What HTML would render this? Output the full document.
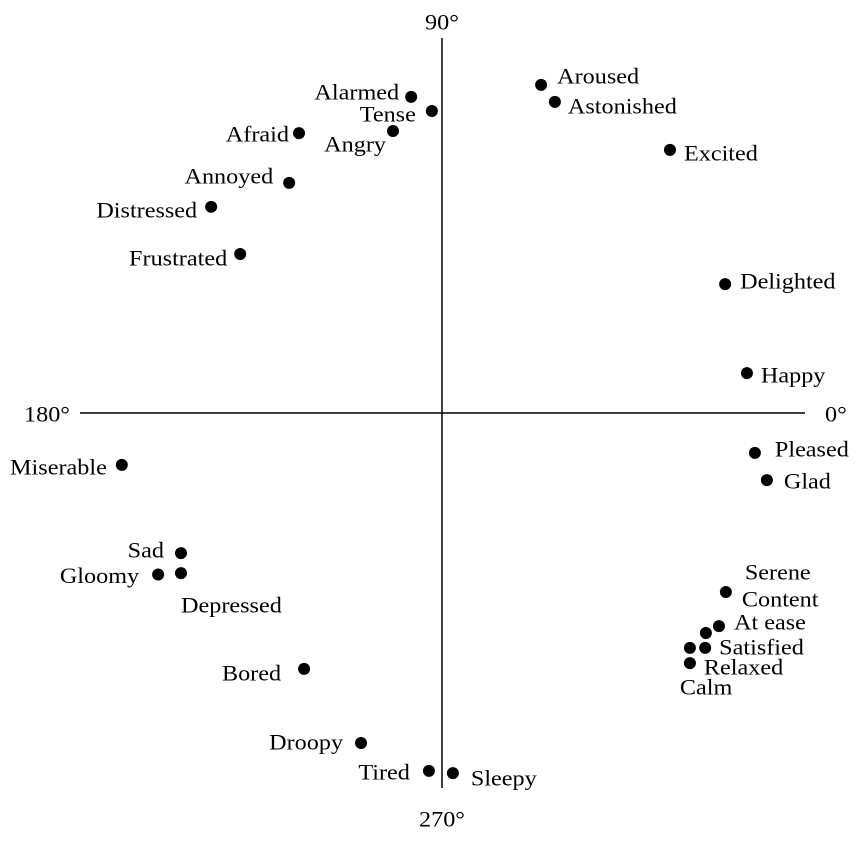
<!DOCTYPE html>
<html><head><meta charset="utf-8"><style>
html,body{margin:0;padding:0;background:#fff}
svg text{font-family:"Liberation Serif",serif;font-size:22px;fill:#000}
</style></head><body>
<svg id="chart" width="862" height="838" xmlns="http://www.w3.org/2000/svg"></svg>
<script>
const emotions=["Alarmed","Tense","Angry","Afraid","Annoyed","Distressed","Frustrated","Aroused","Astonished","Excited","Delighted","Happy","Pleased","Glad","Serene","Content","At ease","Satisfied","Calm","Relaxed","Miserable","Sad","Gloomy","Depressed","Bored","Droopy","Tired","Sleepy"];
const valence=[-0.085,-0.028,-0.135,-0.394,-0.421,-0.636,-0.556,0.273,0.311,0.628,0.780,0.840,0.862,0.895,0.782,0.727,0.763,0.725,0.683,0.683,-0.882,-0.719,-0.782,-0.719,-0.380,-0.223,-0.036,0.030];
const arousal=[0.871,0.832,0.777,0.771,0.634,0.568,0.438,0.904,0.857,0.725,0.355,0.110,-0.110,-0.185,-0.493,-0.606,-0.587,-0.647,-0.647,-0.689,-0.143,-0.386,-0.445,-0.441,-0.705,-0.909,-0.986,-0.992];
const axisLabels=["0°","90°","180°","270°"];
// label placement (styling)
const lab=[[-12,-6,"end"],[-16,2,"end"],[-7,12,"end"],[-10,0,"end"],[-16,-8,"end"],[-14,2,"end"],[-13,3,"end"],[16,-10,"start"],[13,3,"start"],[14,2,"start"],[15,-4,"start"],[14,1,"start"],[20,-5,"start"],[17,0,"start"],[19,-21,"start"],[36,-35,"start"],[15,-5,"start"],[14,-2,"start"],[-10,38,"start"],[14,3,"start"],[-15,1,"end"],[-17,-4,"end"],[-19,0,"end"],[0,31,"start"],[-23,3,"end"],[-18,-2,"end"],[-19,0,"end"],[18,4,"start"]];
const cx=442,cy=413,R=363;
const X=v=>cx+v*R, Y=v=>cy-v*R;
const svg=document.getElementById('chart');const NS="http://www.w3.org/2000/svg";
function mk(t,a){const e=document.createElementNS(NS,t);for(const k in a)e.setAttribute(k,a[k]);svg.appendChild(e);return e;}
function widen(t){const w=t.getComputedTextLength();t.setAttribute('textLength',(w*1.1).toFixed(1));t.setAttribute('lengthAdjust','spacingAndGlyphs');}
let e=mk('line',{x1:80,y1:cy,x2:805,y2:cy,stroke:'#000','stroke-width':1.5});


e=mk('line',{x1:cx,y1:38,x2:cx,y2:788,stroke:'#000','stroke-width':1.5});


const ap=[[825,cy+1,'start'],[cx,22,'middle'],[70,cy+1,'end'],[cx,819,'middle']];
axisLabels.forEach((t,i)=>{const el=mk('text',{x:ap[i][0],y:ap[i][1],'text-anchor':ap[i][2],'dominant-baseline':'central'});el.textContent=t;

widen(el);});
emotions.forEach((n,i)=>{const x=X(valence[i]),y=Y(arousal[i]);
const c=mk('circle',{cx:x,cy:y,r:6,fill:'#000'});


const t=mk('text',{x:x+lab[i][0],y:y+lab[i][1]+1,'text-anchor':lab[i][2],'dominant-baseline':'central'});t.textContent=n;

widen(t);});
</script>
</body></html>
